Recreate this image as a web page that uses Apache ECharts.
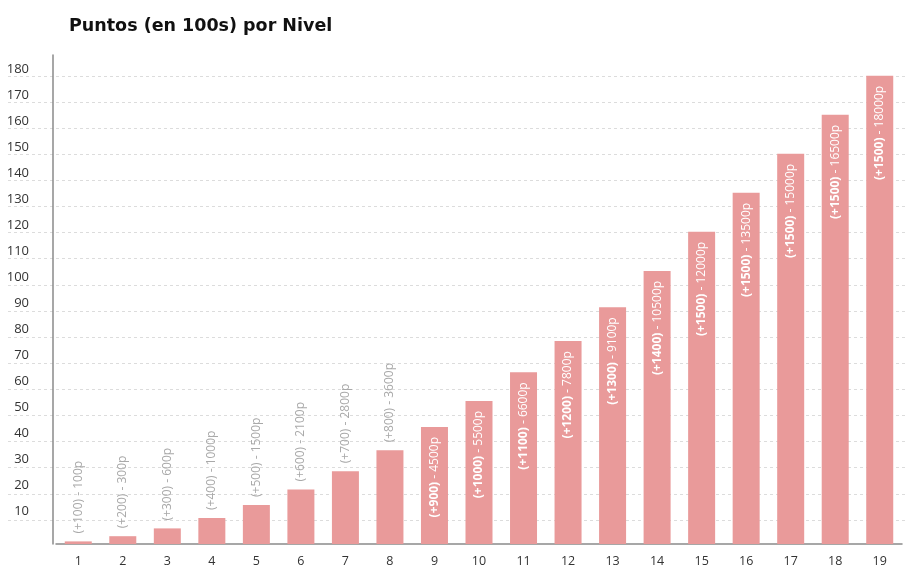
<!DOCTYPE html>
<html><head><meta charset="utf-8">
<script src="https://cdn.jsdelivr.net/npm/echarts@6/dist/echarts.min.js"></script>
<style>html,body{margin:0;padding:0;background:#fff}#c{width:906px;height:568px}</style>
</head><body><div id="c"></div>
<script>
const titleText = 'Puntos (en 100s) por Nivel';
const levels = ['1','2','3','4','5','6','7','8','9','10','11','12','13','14','15','16','17','18','19'];
const values = [1,3,6,10,15,21,28,36,45,55,66,78,91,105,120,135,150,165,180];
const increments = [100,200,300,400,500,600,700,800,900,1000,1100,1200,1300,1400,1500,1500,1500,1500,1500];
const totals = [100,300,600,1000,1500,2100,2800,3600,4500,5500,6600,7800,9100,10500,12000,13500,15000,16500,18000];
const outsideCount = 8;

const yMax = 188, yInterval = 10;
const font = '"Open Sans", "Noto Sans", sans-serif';
const gridColors = [];
for (let v = 0; v <= yMax; v += yInterval) gridColors.push(v === 0 ? 'transparent' : '#dcdcdc');
gridColors.push('transparent');

const data = values.map((v, i) => {
  const outside = i < outsideCount;
  return {
    value: v,
    label: outside ? {
      show: true, position: 'top', rotate: 90, align: 'left', verticalAlign: 'middle', distance: 8,
      formatter: '(+' + increments[i] + ') - ' + totals[i] + 'p',
      color: '#a9a9a9', fontSize: 12, fontFamily: font
    } : {
      show: true, position: 'insideTop', rotate: 90, align: 'right', verticalAlign: 'middle', distance: 10,
      formatter: '{b|(+' + increments[i] + ')}{n| - ' + totals[i] + 'p}',
      rich: {
        b: {color: '#fff', fontWeight: 'bold', fontSize: 12, fontFamily: font},
        n: {color: '#fff', fontSize: 12, fontFamily: font}
      }
    }
  };
});

const chart = echarts.init(document.getElementById('c'));
chart.setOption({
  animation: false,
  title: {text: titleText, left: 64, top: 12,
    textStyle: {fontFamily: '"DejaVu Sans", sans-serif', fontSize: 17.5, fontWeight: 'bold', color: '#111'}},
  grid: [
    {left: 8, right: 0, top: 55, bottom: 22},
    {left: 56, right: 4, top: 55, bottom: 22}
  ],
  xAxis: [
    {gridIndex: 0, type: 'value', show: false, min: 0, max: 1},
    {gridIndex: 1, type: 'category', data: levels,
      axisLine: {lineStyle: {color: '#8a8a8a', width: 1.5}},
      axisTick: {show: false},
      axisLabel: {color: '#333', fontSize: 12.5, fontFamily: font, margin: 11}}
  ],
  yAxis: [
    {gridIndex: 0, type: 'value', min: 0, max: yMax, interval: yInterval,
      axisLine: {show: false}, axisTick: {show: false}, axisLabel: {show: false},
      splitLine: {show: true, lineStyle: {type: [3, 3], color: gridColors, width: 1}}},
    {gridIndex: 1, type: 'value', min: 0, max: yMax, interval: yInterval, offset: 3,
      axisLine: {show: true, lineStyle: {color: '#8a8a8a', width: 1.5}},
      axisTick: {show: false}, splitLine: {show: false},
      axisLabel: {color: '#333', fontSize: 13, fontFamily: font, margin: 24, verticalAlign: 'bottom',
        formatter: v => (v === 0 || v % 10 !== 0) ? '' : String(v)}}
  ],
  series: [{
    type: 'bar', xAxisIndex: 1, yAxisIndex: 1, data: data, barWidth: 27,
    itemStyle: {color: '#e99a9a'}
  }]
});
</script></body></html>
